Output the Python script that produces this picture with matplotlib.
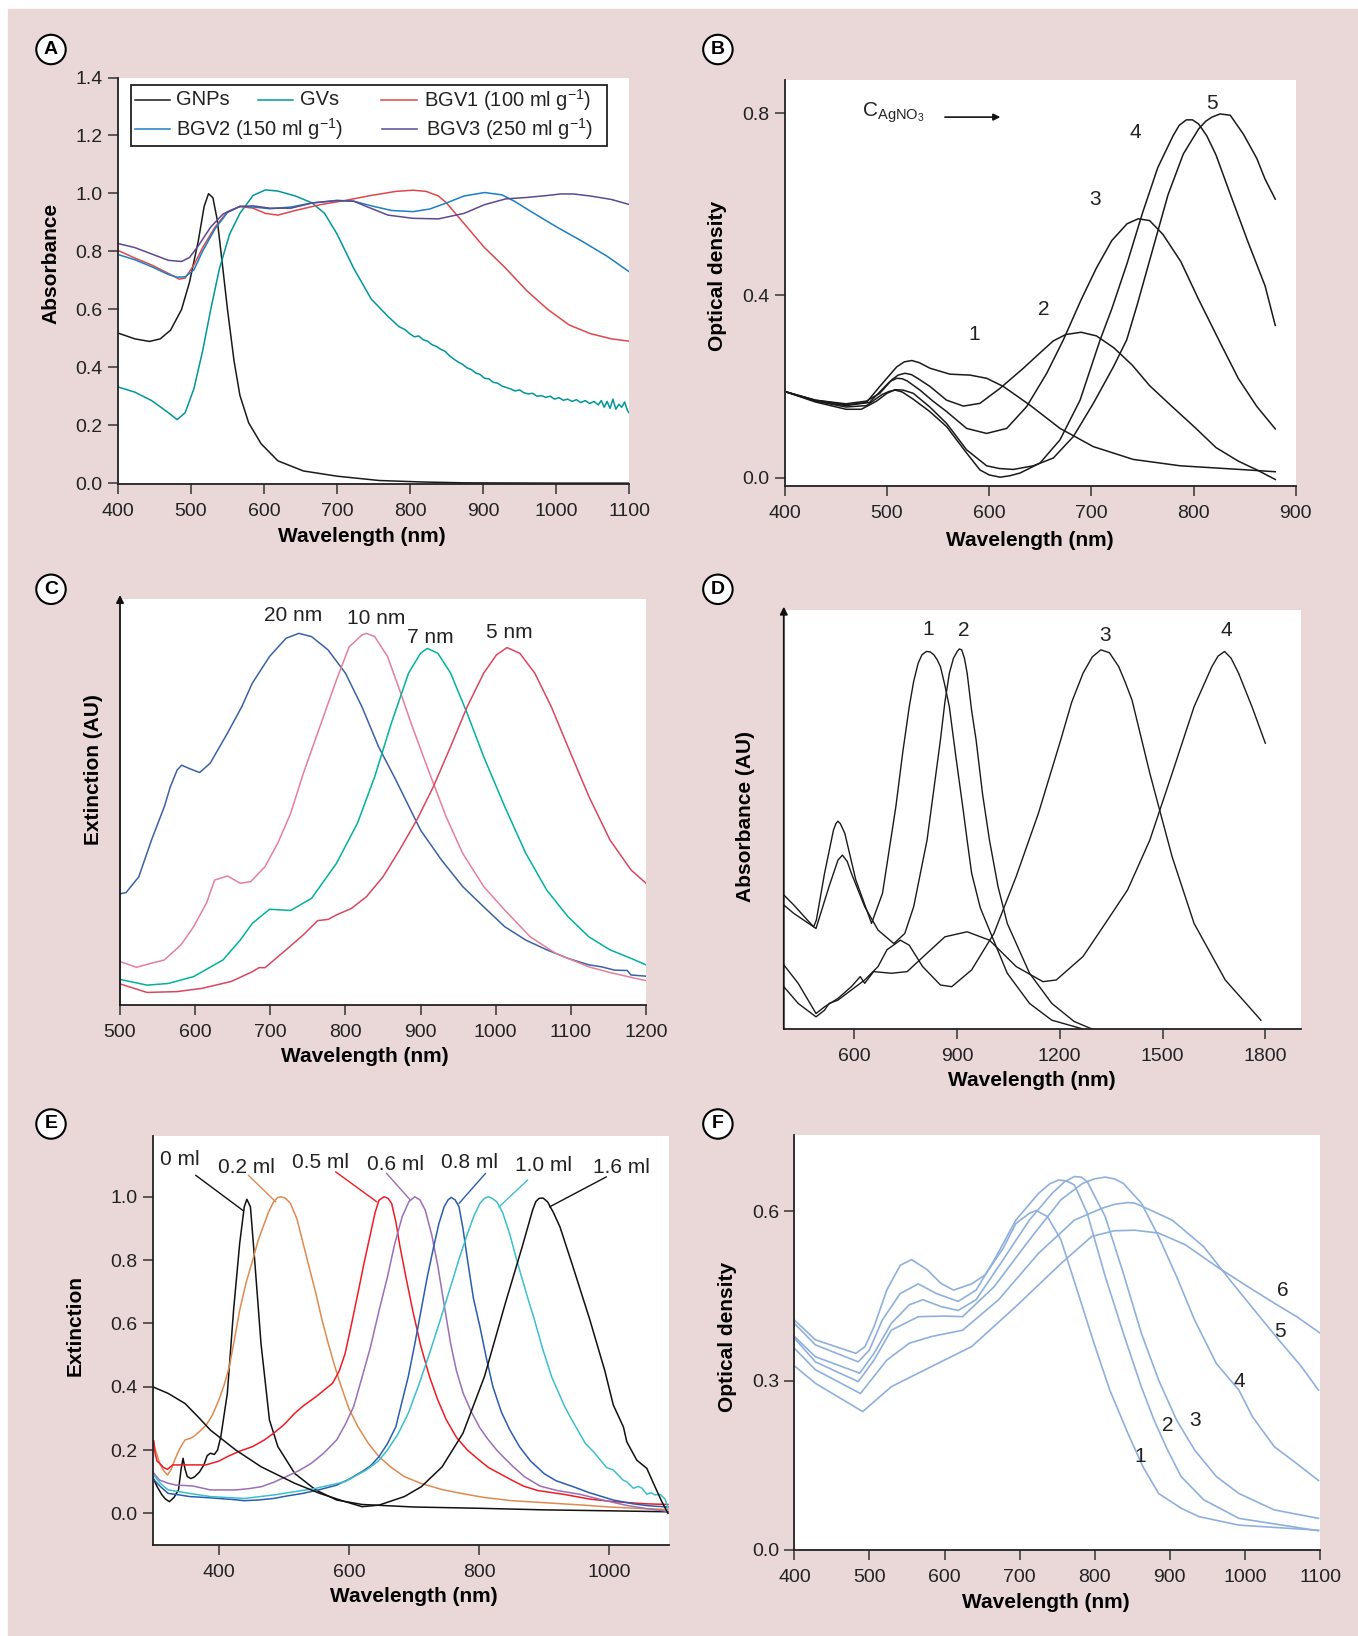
import matplotlib
matplotlib.use('Agg')
import matplotlib.pyplot as plt
from matplotlib.patches import Rectangle

plt.rcParams['font.family'] = ['Liberation Sans', 'DejaVu Sans']
plt.rcParams['mathtext.fontset'] = 'custom'
plt.rcParams['mathtext.rm'] = 'Liberation Sans'
plt.rcParams['mathtext.it'] = 'Liberation Sans'

W, H = 1358, 1636
PINK = '#ead8d8'

# ---------------- panel A ----------------
a_gnp_x = [400, 423, 443, 458, 472, 487, 498, 510, 518, 524, 530, 536, 542, 550, 559, 567, 579, 596, 619, 654, 700, 758, 816, 874, 1000, 1100]
a_gnp_y = [0.518, 0.498, 0.489, 0.498, 0.528, 0.599, 0.694, 0.836, 0.955, 0.999, 0.985, 0.908, 0.777, 0.599, 0.421, 0.303, 0.208, 0.136, 0.077, 0.042, 0.024, 0.009, 0.004, 0.001, 0.0, 0.0]

a_gv_x = [400, 423, 446, 469, 481, 492, 504, 516, 527, 539, 553, 567, 585, 602, 619, 643, 666, 683, 700, 723, 747, 770, 785, 793,
          800, 806, 812, 818, 824, 830, 836, 842, 848, 854, 860, 866, 872, 878, 884, 890, 896, 902, 908, 914, 920, 926, 932, 938,
          944, 950, 956, 962, 968, 974, 980, 986, 992, 998, 1004, 1010, 1016, 1022, 1028, 1034, 1040, 1046, 1052, 1058, 1062,
          1066, 1070, 1074, 1078, 1082, 1086, 1090, 1094, 1098, 1100]
a_gv_y = [0.332, 0.314, 0.285, 0.243, 0.219, 0.243, 0.326, 0.457, 0.599, 0.741, 0.860, 0.931, 0.993, 1.012, 1.008, 0.991, 0.967, 0.931, 0.860, 0.741, 0.635, 0.575, 0.54, 0.53,
          0.515, 0.505, 0.508, 0.495, 0.49, 0.478, 0.472, 0.462, 0.455, 0.44, 0.428, 0.418, 0.41, 0.398, 0.392, 0.38, 0.375, 0.362, 0.36, 0.348, 0.345, 0.335, 0.33, 0.325,
          0.318, 0.322, 0.312, 0.308, 0.31, 0.3, 0.302, 0.296, 0.3, 0.29, 0.295, 0.286, 0.29, 0.282, 0.288, 0.278, 0.285, 0.275, 0.282, 0.27, 0.285,
          0.262, 0.282, 0.258, 0.29, 0.255, 0.272, 0.262, 0.28, 0.25, 0.243]

a_bgv1_x = [400, 423, 446, 469, 484, 492, 504, 516, 533, 550, 567, 585, 602, 619, 643, 677, 712, 747, 781, 804, 822, 839, 850, 874, 902, 931, 960, 989, 1018, 1047, 1076, 1100]
a_bgv1_y = [0.803, 0.777, 0.753, 0.724, 0.704, 0.708, 0.753, 0.813, 0.884, 0.937, 0.955, 0.949, 0.931, 0.925, 0.941, 0.961, 0.976, 0.993, 1.007, 1.011, 1.007, 0.991, 0.967, 0.896, 0.813, 0.742, 0.664, 0.599, 0.546, 0.516, 0.498, 0.490]

a_bgv2_x = [400, 423, 446, 469, 481, 492, 504, 516, 533, 550, 567, 585, 608, 637, 666, 700, 723, 747, 775, 804, 827, 850, 874, 902, 926, 943, 966, 1001, 1035, 1070, 1100]
a_bgv2_y = [0.789, 0.771, 0.747, 0.720, 0.711, 0.712, 0.736, 0.801, 0.878, 0.934, 0.955, 0.953, 0.947, 0.953, 0.967, 0.976, 0.973, 0.957, 0.941, 0.937, 0.946, 0.967, 0.991, 1.003, 0.995, 0.973, 0.937, 0.884, 0.836, 0.783, 0.730]

a_bgv3_x = [400, 423, 446, 469, 487, 498, 510, 527, 544, 567, 585, 608, 637, 666, 700, 723, 740, 770, 804, 839, 874, 902, 931, 960, 989, 1006, 1024, 1047, 1076, 1100]
a_bgv3_y = [0.827, 0.813, 0.791, 0.769, 0.765, 0.779, 0.819, 0.884, 0.929, 0.955, 0.957, 0.949, 0.949, 0.967, 0.975, 0.973, 0.955, 0.925, 0.914, 0.912, 0.931, 0.961, 0.981, 0.986, 0.993, 0.998, 0.998, 0.991, 0.979, 0.962]

a_names = ['GNPs', 'GVs', 'BGV1 (100 ml g$^{-1}$)', 'BGV2 (150 ml g$^{-1}$)', 'BGV3 (250 ml g$^{-1}$)']
a_colors = ['#1a1a1a', '#00979a', '#e0474c', '#1b7fc4', '#5b4a8f']

# ---------------- panel B ----------------
b1_x = [400, 430, 460, 480, 493, 509.6, 517, 524.3, 532, 542.2, 561.7, 581.3, 597.6, 614, 640, 669.4, 702, 741, 787, 845, 880]
b1_y = [0.189, 0.170, 0.160, 0.165, 0.200, 0.243, 0.254, 0.257, 0.252, 0.240, 0.227, 0.225, 0.218, 0.200, 0.159, 0.108, 0.068, 0.040, 0.026, 0.018, 0.013]
b2_x = [400, 430, 460, 480, 493, 505, 511, 517.7, 524, 530, 542.2, 558.4, 574.8, 591, 610.7, 633.5, 648, 662.8, 675, 690, 705, 722, 740, 757, 779, 801, 822, 844, 862, 880]
b2_y = [0.189, 0.170, 0.162, 0.168, 0.185, 0.215, 0.225, 0.229, 0.226, 0.218, 0.200, 0.170, 0.157, 0.163, 0.196, 0.240, 0.27, 0.30, 0.314, 0.319, 0.311, 0.285, 0.247, 0.202, 0.156, 0.111, 0.066, 0.036, 0.017, -0.004]
b3_x = [400, 430, 460, 483, 496, 503, 509.6, 515, 520, 532.4, 545, 558.4, 578, 597.6, 617.2, 636.8, 656.4, 672.6, 690, 705, 720, 735, 746, 757, 770, 787.6, 805, 827, 844, 862, 880]
b3_y = [0.189, 0.168, 0.158, 0.165, 0.195, 0.211, 0.218, 0.217, 0.212, 0.192, 0.168, 0.145, 0.108, 0.097, 0.108, 0.156, 0.229, 0.302, 0.39, 0.46, 0.52, 0.557, 0.568, 0.564, 0.534, 0.474, 0.391, 0.292, 0.217, 0.156, 0.107]
b4_x = [400, 430, 460, 480, 495, 502, 508, 515, 525.8, 542, 558.4, 578, 591, 600, 610.7, 620, 630.2, 649.8, 669.4, 689, 708.6, 720, 735, 750, 765, 780, 786, 793, 799, 805, 813, 822, 835.5, 853, 870, 880]
b4_y = [0.189, 0.168, 0.155, 0.158, 0.182, 0.189, 0.192, 0.188, 0.172, 0.145, 0.112, 0.054, 0.017, 0.006, 0.001, 0.004, 0.010, 0.032, 0.083, 0.170, 0.302, 0.37, 0.47, 0.58, 0.68, 0.75, 0.773, 0.785, 0.785, 0.776, 0.75, 0.708, 0.625, 0.519, 0.421, 0.334]
b5_x = [400, 430, 460, 475, 490, 500, 508, 516, 525.8, 542, 558.4, 578, 597.6, 610, 623.7, 643.3, 662.8, 682.4, 702, 721.6, 734.6, 745, 760, 775, 790, 805, 812, 818, 826, 836, 849, 862, 870, 880]
b5_y = [0.189, 0.166, 0.150, 0.150, 0.168, 0.185, 0.193, 0.192, 0.185, 0.155, 0.119, 0.061, 0.026, 0.02, 0.018, 0.026, 0.043, 0.090, 0.163, 0.243, 0.302, 0.38, 0.50, 0.62, 0.71, 0.765, 0.782, 0.791, 0.798, 0.795, 0.753, 0.700, 0.655, 0.611]
b_lab = ['1', '2', '3', '4', '5']
b_lab_x = [585, 653.5, 704, 743, 818]
b_lab_y = [0.315, 0.368, 0.610, 0.757, 0.821]

# ---------------- panel C ----------------
c20_x = [500, 508, 525, 542, 559, 567, 576, 582, 592, 606, 620, 643, 662, 676, 699, 721, 738, 755, 777, 800, 822, 844, 867, 900, 928, 956, 984, 1012, 1040, 1068, 1096, 1124, 1141, 1158, 1175, 1180, 1200]
c20_y = [0.274, 0.277, 0.316, 0.407, 0.489, 0.538, 0.579, 0.591, 0.583, 0.573, 0.596, 0.670, 0.735, 0.793, 0.859, 0.904, 0.916, 0.908, 0.875, 0.818, 0.735, 0.637, 0.555, 0.431, 0.357, 0.292, 0.242, 0.193, 0.160, 0.136, 0.115, 0.099, 0.094, 0.086, 0.085, 0.074, 0.071]
c10_x = [500, 522, 542, 559, 581, 598, 615, 626, 643, 660, 674, 693, 710, 727, 744, 766, 788, 805, 822, 828, 839, 856, 872, 889, 912, 934, 956, 984, 1012, 1046, 1080, 1124, 1152, 1200]
c10_y = [0.107, 0.093, 0.103, 0.111, 0.148, 0.193, 0.251, 0.308, 0.318, 0.300, 0.304, 0.341, 0.399, 0.472, 0.571, 0.686, 0.801, 0.883, 0.912, 0.916, 0.908, 0.859, 0.777, 0.686, 0.571, 0.464, 0.374, 0.292, 0.234, 0.168, 0.127, 0.094, 0.080, 0.060]
c7_x = [500, 536, 564, 598, 637, 660, 676, 699, 727, 755, 788, 816, 839, 861, 884, 900, 909, 923, 940, 962, 984, 1012, 1040, 1068, 1096, 1124, 1152, 1180, 1200]
c7_y = [0.063, 0.049, 0.053, 0.070, 0.111, 0.160, 0.201, 0.236, 0.233, 0.263, 0.349, 0.448, 0.563, 0.694, 0.818, 0.867, 0.879, 0.867, 0.818, 0.719, 0.612, 0.489, 0.374, 0.283, 0.218, 0.168, 0.136, 0.115, 0.099]
c5_x = [500, 536, 576, 609, 648, 676, 685, 693, 721, 744, 763, 777, 788, 808, 828, 850, 872, 895, 917, 940, 962, 984, 1001, 1015, 1032, 1052, 1074, 1096, 1124, 1152, 1180, 1200]
c5_y = [0.052, 0.031, 0.033, 0.041, 0.058, 0.082, 0.092, 0.092, 0.136, 0.173, 0.208, 0.211, 0.222, 0.238, 0.267, 0.316, 0.382, 0.456, 0.538, 0.637, 0.735, 0.818, 0.863, 0.881, 0.867, 0.818, 0.735, 0.637, 0.514, 0.407, 0.333, 0.300]
c_lab = ['20 nm', '10 nm', '7 nm', '5 nm']
c_lab_x = [730, 841, 913, 1018]
c_lab_y = [0.961, 0.953, 0.906, 0.918]
c_colors = ['#3b62a5', '#e57f9c', '#00b39b', '#d9475f']

# ---------------- panel D ----------------
d1_x = [395, 424, 475, 482, 490, 514, 540, 547, 553, 560, 573, 605, 651, 683, 722, 742, 761, 774, 787, 798, 811, 822, 833, 842, 852, 865, 878, 897, 917, 930, 943, 968, 995, 1047, 1112, 1177, 1268]
d1_y = [0.320, 0.296, 0.25, 0.244, 0.26, 0.372, 0.475, 0.49, 0.496, 0.49, 0.467, 0.356, 0.252, 0.324, 0.531, 0.66, 0.769, 0.83, 0.873, 0.893, 0.901, 0.90, 0.893, 0.882, 0.865, 0.82, 0.769, 0.65, 0.531, 0.45, 0.372, 0.29, 0.236, 0.133, 0.061, 0.021, 0.0]
d2_x = [395, 424, 489, 527, 553, 566, 580, 592, 631, 670, 716, 748, 774, 813, 852, 865, 878, 890, 901, 907, 914, 922, 930, 943, 956, 975, 995, 1020, 1047, 1112, 1177, 1242, 1294]
d2_y = [0.296, 0.276, 0.240, 0.340, 0.403, 0.415, 0.40, 0.372, 0.292, 0.236, 0.204, 0.228, 0.292, 0.451, 0.690, 0.78, 0.849, 0.885, 0.901, 0.907, 0.905, 0.885, 0.849, 0.76, 0.690, 0.56, 0.451, 0.34, 0.252, 0.133, 0.061, 0.018, 0.0]
d3_x = [395, 437, 489, 514, 527, 553, 592, 631, 670, 696, 735, 761, 800, 852, 885, 943, 1008, 1073, 1138, 1203, 1235, 1268, 1295, 1320, 1345, 1372, 1390, 1411, 1463, 1528, 1592, 1683, 1787]
d3_y = [0.101, 0.061, 0.029, 0.045, 0.061, 0.069, 0.093, 0.117, 0.149, 0.189, 0.212, 0.200, 0.149, 0.105, 0.101, 0.141, 0.228, 0.364, 0.515, 0.690, 0.78, 0.849, 0.888, 0.905, 0.898, 0.865, 0.83, 0.785, 0.610, 0.411, 0.252, 0.117, 0.021]
d4_x = [395, 437, 489, 514, 553, 592, 618, 631, 657, 709, 755, 813, 865, 930, 995, 1073, 1151, 1190, 1268, 1333, 1398, 1463, 1528, 1592, 1644, 1662, 1681, 1700, 1722, 1761, 1800]
d4_y = [0.153, 0.109, 0.037, 0.053, 0.073, 0.101, 0.125, 0.109, 0.137, 0.133, 0.137, 0.181, 0.220, 0.232, 0.212, 0.149, 0.113, 0.117, 0.173, 0.252, 0.332, 0.451, 0.610, 0.769, 0.865, 0.89, 0.901, 0.885, 0.849, 0.769, 0.682]
d_lab = ['1', '2', '3', '4']
d_lab_x = [817, 921, 1333, 1686]
d_lab_y = [0.954, 0.951, 0.940, 0.951]

# ---------------- panel E ----------------
e0_x = [298, 305, 312, 318, 324, 331, 338, 342, 345, 348, 351.5, 357, 362.5, 370, 377, 382, 387, 393, 398, 403, 413, 422.6, 432, 439, 443, 448.5, 455, 464.7, 477.7, 490.6, 516.5, 548.8, 581, 620, 700, 800, 900, 1000, 1090]
e0_y = [0.116, 0.085, 0.06, 0.045, 0.037, 0.05, 0.074, 0.14, 0.174, 0.14, 0.116, 0.11, 0.115, 0.13, 0.153, 0.182, 0.19, 0.186, 0.2, 0.242, 0.379, 0.642, 0.853, 0.968, 0.992, 0.968, 0.8, 0.537, 0.295, 0.211, 0.126, 0.074, 0.042, 0.028, 0.02, 0.016, 0.011, 0.008, 0.005]
e02_x = [298, 301, 305, 309, 315, 321, 327, 332, 340, 348, 355, 361, 370, 380.6, 390, 400, 408, 416, 424, 432, 442, 452, 460, 468, 476, 484, 490, 495, 502, 510, 520, 529.4, 539, 549, 558, 568, 578, 588, 600, 613.6, 630, 646, 665, 685, 710, 743, 775, 808, 850, 905, 960, 1000, 1050, 1090]
e02_y = [0.232, 0.21, 0.185, 0.158, 0.135, 0.121, 0.14, 0.168, 0.205, 0.232, 0.236, 0.242, 0.258, 0.279, 0.31, 0.358, 0.405, 0.463, 0.55, 0.642, 0.73, 0.8, 0.86, 0.905, 0.95, 0.984, 0.997, 1.0, 0.996, 0.979, 0.93, 0.853, 0.775, 0.695, 0.615, 0.537, 0.465, 0.4, 0.33, 0.274, 0.22, 0.179, 0.145, 0.116, 0.095, 0.075, 0.062, 0.05, 0.04, 0.033, 0.026, 0.02, 0.015, 0.012]
e05_x = [298, 300, 302, 305, 309, 315, 321, 329, 340, 348, 365, 380, 400, 413, 430, 452, 470, 484, 500, 516.5, 530, 549, 562, 574.7, 585, 594, 604, 613.6, 623, 633, 640, 646, 653.7, 660, 665.4, 672, 678.3, 688, 697.7, 710, 723.6, 736, 749.5, 765, 781.8, 800, 814, 831, 850, 868, 890, 930, 970, 1006, 1057, 1090]
e05_y = [0.221, 0.23, 0.19, 0.165, 0.158, 0.145, 0.139, 0.153, 0.153, 0.153, 0.153, 0.153, 0.165, 0.179, 0.195, 0.211, 0.232, 0.253, 0.28, 0.316, 0.34, 0.368, 0.39, 0.411, 0.45, 0.505, 0.6, 0.695, 0.79, 0.884, 0.95, 0.989, 1.0, 0.995, 0.979, 0.92, 0.842, 0.74, 0.642, 0.53, 0.432, 0.36, 0.295, 0.24, 0.2, 0.168, 0.145, 0.126, 0.105, 0.086, 0.072, 0.06, 0.045, 0.037, 0.03, 0.028]
e06_x = [298, 309, 322, 335, 348, 361, 374, 387, 410, 426, 446, 465, 484, 503.6, 523, 542, 561, 581, 594, 607, 620, 633, 646, 659, 670, 681.6, 692, 701, 709, 717, 727, 736.6, 746, 756, 765, 775.4, 788, 801, 813, 826.8, 840, 852.4, 870, 893.5, 920, 955, 990, 1026.7, 1060, 1090]
e06_y = [0.132, 0.105, 0.095, 0.089, 0.088, 0.086, 0.08, 0.074, 0.074, 0.074, 0.078, 0.084, 0.098, 0.116, 0.135, 0.158, 0.19, 0.232, 0.28, 0.337, 0.43, 0.526, 0.64, 0.747, 0.85, 0.937, 0.985, 1.0, 0.99, 0.958, 0.88, 0.779, 0.66, 0.537, 0.45, 0.379, 0.32, 0.27, 0.235, 0.2, 0.172, 0.147, 0.115, 0.086, 0.072, 0.06, 0.042, 0.025, 0.014, 0.006]
e08_x = [298, 310, 322, 340, 355, 380, 400, 420, 439, 460, 484, 505, 529, 555, 581, 600, 620, 633, 646, 659, 672, 681, 691, 701, 710.7, 720, 730, 738, 746, 752, 757, 763, 769, 775, 782, 791, 801, 811, 821, 834, 846.6, 862, 879, 900, 918, 944.6, 969.5, 1006, 1036.9, 1060, 1090]
e08_y = [0.111, 0.085, 0.063, 0.058, 0.053, 0.05, 0.047, 0.044, 0.04, 0.042, 0.047, 0.055, 0.063, 0.075, 0.089, 0.108, 0.132, 0.15, 0.179, 0.22, 0.274, 0.35, 0.432, 0.535, 0.642, 0.745, 0.842, 0.915, 0.968, 0.99, 0.998, 0.99, 0.968, 0.9, 0.8, 0.68, 0.59, 0.49, 0.40, 0.32, 0.265, 0.21, 0.165, 0.125, 0.103, 0.084, 0.065, 0.042, 0.03, 0.024, 0.02]
e10_x = [298, 310, 322, 340, 355, 387, 439, 484, 549, 594, 626.5, 645, 659, 675, 691, 707, 723.6, 740, 756, 770, 782, 792, 801, 808, 814, 820, 827, 836, 846.6, 859, 872.4, 885, 898, 911.5, 930.7, 939.6, 963, 975.4, 995.5, 1006, 1021, 1026.7, 1036.9, 1044, 1049.8, 1057.5, 1064, 1070, 1078, 1085.6, 1090]
e10_y = [0.126, 0.095, 0.074, 0.068, 0.063, 0.053, 0.047, 0.058, 0.079, 0.1, 0.137, 0.165, 0.2, 0.25, 0.316, 0.405, 0.505, 0.61, 0.716, 0.81, 0.884, 0.94, 0.979, 0.995, 1.0, 0.995, 0.984, 0.95, 0.884, 0.79, 0.695, 0.61, 0.516, 0.43, 0.34, 0.305, 0.221, 0.195, 0.145, 0.137, 0.105, 0.1, 0.079, 0.085, 0.08, 0.06, 0.065, 0.058, 0.06, 0.045, 0.017]
e16_x = [298, 322, 348, 368, 387, 426, 465, 516.5, 555, 594, 620, 646, 685, 711, 743, 775, 808, 840, 866, 882, 887, 892, 898, 905, 914, 924, 944, 970, 993, 1006, 1021.5, 1026.7, 1042, 1057.5, 1067.6, 1080.5, 1090]
e16_y = [0.4, 0.379, 0.347, 0.305, 0.263, 0.2, 0.147, 0.095, 0.063, 0.037, 0.021, 0.026, 0.053, 0.084, 0.147, 0.253, 0.432, 0.663, 0.842, 0.958, 0.985, 0.995, 0.996, 0.984, 0.95, 0.905, 0.779, 0.611, 0.45, 0.342, 0.273, 0.226, 0.168, 0.142, 0.095, 0.037, 0.0]
e_names = ['0 ml', '0.2 ml', '0.5 ml', '0.6 ml', '0.8 ml', '1.0 ml', '1.6 ml']
e_colors = ['#111111', '#e08a50', '#ee1c24', '#9b6fb5', '#2a5db0', '#3cbfcc', '#111111']
e_lab_x = [340.5, 442, 556.6, 671.8, 785, 898.3, 1018]
e_lab_y = [1.118, 1.093, 1.107, 1.103, 1.107, 1.100, 1.093]
e_lead_from = [(364.4, 1.068), (445.3, 1.068), (579.3, 1.079), (657.6, 1.074), (809.7, 1.074), (874.4, 1.053), (995.4, 1.063)]
e_lead_to = [(437.5, 0.956), (487.4, 0.984), (642.7, 0.984), (694.5, 0.989), (768.9, 0.979), (830.4, 0.968), (908, 0.968)]

# ---------------- panel F ----------------
f1_x = [400, 428, 482, 494, 506, 523, 541, 556, 577, 595, 612, 636, 654, 678, 695, 713, 722, 737, 755, 778, 799, 820, 844, 864, 885, 915, 939, 992, 1098]
f1_y = [0.407, 0.372, 0.348, 0.360, 0.395, 0.460, 0.504, 0.514, 0.496, 0.472, 0.460, 0.471, 0.487, 0.534, 0.578, 0.596, 0.601, 0.590, 0.549, 0.454, 0.366, 0.283, 0.207, 0.148, 0.100, 0.074, 0.059, 0.044, 0.035]
f2_x = [400, 428, 485, 500, 517, 541, 565, 589, 618, 642, 666, 695, 725, 740, 752, 763, 773, 790, 814, 838, 862, 879, 897, 915, 945, 992, 1098]
f2_y = [0.401, 0.363, 0.333, 0.354, 0.407, 0.454, 0.471, 0.454, 0.440, 0.460, 0.513, 0.584, 0.631, 0.648, 0.655, 0.653, 0.646, 0.596, 0.484, 0.384, 0.289, 0.230, 0.177, 0.130, 0.089, 0.056, 0.034]
f3_x = [400, 428, 487, 506, 529, 553, 571, 595, 618, 642, 672, 713, 743, 760, 773, 782, 790, 814, 838, 862, 885, 909, 933, 962, 992, 1039, 1098]
f3_y = [0.378, 0.342, 0.313, 0.348, 0.401, 0.434, 0.443, 0.431, 0.424, 0.443, 0.502, 0.584, 0.631, 0.652, 0.661, 0.660, 0.652, 0.590, 0.490, 0.384, 0.301, 0.230, 0.177, 0.130, 0.100, 0.071, 0.056]
f4_x = [400, 428, 485, 506, 529, 565, 600, 624, 666, 713, 755, 784, 800, 814, 826, 838, 862, 885, 909, 933, 962, 992, 1010, 1039, 1069, 1098]
f4_y = [0.375, 0.333, 0.298, 0.336, 0.389, 0.413, 0.414, 0.413, 0.466, 0.549, 0.620, 0.649, 0.657, 0.660, 0.657, 0.649, 0.614, 0.555, 0.484, 0.407, 0.330, 0.283, 0.236, 0.183, 0.153, 0.123]
f5_x = [400, 428, 488, 523, 553, 583, 624, 672, 725, 773, 810, 827, 844, 853, 862, 903, 945, 980, 1016, 1045, 1075, 1098]
f5_y = [0.357, 0.319, 0.277, 0.336, 0.366, 0.378, 0.389, 0.443, 0.525, 0.584, 0.605, 0.612, 0.615, 0.614, 0.609, 0.584, 0.537, 0.478, 0.419, 0.372, 0.325, 0.283]
f6_x = [400, 428, 491, 529, 583, 636, 695, 755, 796, 826, 853, 885, 921, 962, 1004, 1039, 1069, 1100]
f6_y = [0.326, 0.295, 0.245, 0.289, 0.325, 0.360, 0.431, 0.507, 0.555, 0.565, 0.566, 0.561, 0.540, 0.502, 0.466, 0.437, 0.413, 0.384]
f_lab = ['1', '2', '3', '4', '5', '6']
f_lab_x = [860, 897, 933, 992, 1047, 1050]
f_lab_y = [0.165, 0.221, 0.230, 0.298, 0.386, 0.460]
F_COLOR = '#8fb0dc'


def add_ax(l, t, r, b):
    return fig.add_axes([l / W, 1 - b / H, (r - l) / W, (b - t) / H])


def style(ax, xpad=6):
    ax.set_facecolor('white')
    ax.spines['top'].set_visible(False)
    ax.spines['right'].set_visible(False)
    for s in ['left', 'bottom']:
        ax.spines[s].set_linewidth(1.3)
        ax.spines[s].set_color('#222222')
    ax.tick_params(direction='out', length=7.5, width=1.1, color='#333333', labelsize=14, labelcolor='#222222')
    ax.tick_params(axis='x', pad=xpad)
    ax.tick_params(axis='y', pad=3.5)


def ftext(x, y, s, **kw):
    fig.text(x / W, 1 - y / H, s, ha='center', va='center', **kw)


def letter(x, y, s):
    fig.text(x / W, 1 - y / H, s, ha='center', va='center', fontsize=14, fontweight='bold',
             bbox=dict(boxstyle='circle,pad=0.32', fc='white', ec='black', lw=1.5))


def yarrow(ax, top):
    ax.spines['left'].set_visible(False)
    ax.set_yticks([])
    ax.annotate('', xy=(0, top), xytext=(0, 0), xycoords='axes fraction',
                arrowprops=dict(arrowstyle='-|>', lw=1.3, color='#111111', mutation_scale=11, shrinkA=0, shrinkB=0))


fig = plt.figure(figsize=(W / 100, H / 100), dpi=100)
fig.patch.set_facecolor('white')
fig.patches.append(Rectangle((7.5 / W, 0), 1, (H - 8.6) / H, transform=fig.transFigure, color=PINK, zorder=-10))

# ---- A ----
ax = add_ax(118, 77.5, 629, 484)
style(ax)
for xs, ys, c in zip([a_gnp_x, a_gv_x, a_bgv1_x, a_bgv2_x, a_bgv3_x],
                     [a_gnp_y, a_gv_y, a_bgv1_y, a_bgv2_y, a_bgv3_y], a_colors):
    ax.plot(xs, ys, color=c, lw=1.1)
ax.set_xlim(400, 1100)
ax.set_ylim(-0.003, 1.4)
ax.set_xticks(range(400, 1101, 100))
ax.set_yticks([0.0, 0.2, 0.4, 0.6, 0.8, 1.0, 1.2, 1.4])
ax.set_yticklabels(['0.0', '0.2', '0.4', '0.6', '0.8', '1.0', '1.2', '1.4'])
ax.add_patch(Rectangle((0.0245, 0.8305), 0.9325, 0.1501, transform=ax.transAxes, fc='white', ec='#222222', lw=1.3, zorder=5))
leg_rows = [0.9449, 0.9449, 0.9449, 0.8728, 0.8728]
leg_line = [(0.0342, 0.1027), (0.2732, 0.3415), (0.5147, 0.5845), (0.0342, 0.1027), (0.517, 0.5845)]
leg_txt = [0.1135, 0.3556, 0.5988, 0.1135, 0.6035]
for name, c, yy, (x0, x1), xt in zip(a_names, a_colors, leg_rows, leg_line, leg_txt):
    ax.plot([x0, x1], [yy, yy], color=c, lw=1.1, transform=ax.transAxes, zorder=6, clip_on=False)
    ax.text(xt, yy, name, transform=ax.transAxes, fontsize=14.5, va='center', ha='left', zorder=6, color='#222222')
letter(51, 49.5, 'A')
ftext(362, 537, 'Wavelength (nm)', fontsize=15, fontweight='bold')
ftext(50.5, 263, 'Absorbance', fontsize=15, fontweight='bold', rotation=90)

# ---- B ----
ax = add_ax(784.7, 80.2, 1295.7, 486.3)
style(ax)
for xs, ys in zip([b1_x, b2_x, b3_x, b4_x, b5_x], [b1_y, b2_y, b3_y, b4_y, b5_y]):
    ax.plot(xs, ys, color='#1a1a1a', lw=1.1)
ax.set_xlim(400, 900)
ax.set_ylim(-0.019, 0.872)
ax.set_xticks(range(400, 901, 100))
ax.set_yticks([0.0, 0.4, 0.8])
ax.set_yticklabels(['0.0', '0.4', '0.8'])
for s, x, y in zip(b_lab, b_lab_x, b_lab_y):
    ax.text(x, y, s, fontsize=15, ha='center', va='center', color='#222222')
ax.text(476, 0.80, r'$\mathregular{C_{AgNO_3}}$', fontsize=15, ha='left', va='center', color='#222222')
ax.annotate('', xy=(611, 0.791), xytext=(556.8, 0.791),
            arrowprops=dict(arrowstyle='-|>', lw=1.2, color='#111111', mutation_scale=10, shrinkA=0, shrinkB=0))
letter(717.9, 49.5, 'B')
ftext(1030, 540, 'Wavelength (nm)', fontsize=15, fontweight='bold')
ftext(717.9, 275.5, 'Optical density', fontsize=15, fontweight='bold', rotation=90)

# ---- C ----
ax = add_ax(120, 599.3, 646, 1005)
style(ax)
yarrow(ax, 1.0106)
for xs, ys, c in zip([c20_x, c10_x, c7_x, c5_x], [c20_y, c10_y, c7_y, c5_y], c_colors):
    ax.plot(xs, ys, color=c, lw=1.1)
ax.set_xlim(500, 1200)
ax.set_ylim(0, 1)
ax.set_xticks(range(500, 1201, 100))
for s, x, y in zip(c_lab, c_lab_x, c_lab_y):
    ax.text(x, y, s, fontsize=15, ha='center', va='center', color='#222222')
letter(51, 589.3, 'C')
ftext(365, 1057, 'Wavelength (nm)', fontsize=15, fontweight='bold')
ftext(93.4, 770, 'Extinction (AU)', fontsize=15, fontweight='bold', rotation=90)

# ---- D ----
ax = add_ax(783.8, 610, 1301, 1029)
style(ax)
yarrow(ax, 1.008)
for xs, ys in zip([d1_x, d2_x, d3_x, d4_x], [d1_y, d2_y, d3_y, d4_y]):
    ax.plot(xs, ys, color='#1a1a1a', lw=1.0)
ax.set_xlim(395, 1904)
ax.set_ylim(0, 1)
ax.set_xticks(range(600, 1801, 300))
for s, x, y in zip(d_lab, d_lab_x, d_lab_y):
    ax.text(x, y, s, fontsize=15, ha='center', va='center', color='#222222')
letter(717.9, 589.3, 'D')
ftext(1031.7, 1080, 'Wavelength (nm)', fontsize=15, fontweight='bold')
ftext(745.5, 816.7, 'Absorbance (AU)', fontsize=15, fontweight='bold', rotation=90)

# ---- E ----
ax = add_ax(152.8, 1136, 669.3, 1545)
style(ax)
e_x = [e0_x, e02_x, e05_x, e06_x, e08_x, e10_x, e16_x]
e_y = [e0_y, e02_y, e05_y, e06_y, e08_y, e10_y, e16_y]
for xs, ys, c in zip(e_x, e_y, e_colors):
    ax.plot(xs, ys, color=c, lw=1.1)
for name, c, lx, ly, p0, p1 in zip(e_names, e_colors, e_lab_x, e_lab_y, e_lead_from, e_lead_to):
    ax.text(lx, ly, name, fontsize=15, ha='center', va='center', color='#222222')
    ax.annotate('', xy=p1, xytext=p0, arrowprops=dict(arrowstyle='-', lw=1.0, color=c, shrinkA=0, shrinkB=0))
ax.set_xlim(298.5, 1092)
ax.set_ylim(-0.1, 1.192)
ax.set_xticks([400, 600, 800, 1000])
ax.set_yticks([0.0, 0.2, 0.4, 0.6, 0.8, 1.0])
ax.set_yticklabels(['0.0', '0.2', '0.4', '0.6', '0.8', '1.0'])
letter(51, 1124, 'E')
ftext(414, 1597, 'Wavelength (nm)', fontsize=15, fontweight='bold')
ftext(75, 1325, 'Extinction', fontsize=15, fontweight='bold', rotation=90)

# ---- F ----
ax = add_ax(794.4, 1135.3, 1320, 1550)
style(ax)
for xs, ys in zip([f1_x, f2_x, f3_x, f4_x, f5_x, f6_x], [f1_y, f2_y, f3_y, f4_y, f5_y, f6_y]):
    ax.plot(xs, ys, color=F_COLOR, lw=1.2)
ax.set_xlim(400, 1100)
ax.set_ylim(0, 0.734)
ax.set_xticks(range(400, 1101, 100))
ax.set_yticks([0.0, 0.3, 0.6])
ax.set_yticklabels(['0.0', '0.3', '0.6'])
for s, x, y in zip(f_lab, f_lab_x, f_lab_y):
    ax.text(x, y, s, fontsize=15, ha='center', va='center', color='#222222')
letter(717.9, 1124, 'F')
ftext(1046, 1602, 'Wavelength (nm)', fontsize=15, fontweight='bold')
ftext(727.7, 1336.7, 'Optical density', fontsize=15, fontweight='bold', rotation=90)

fig.savefig('out.png', dpi=100, facecolor=fig.get_facecolor())
